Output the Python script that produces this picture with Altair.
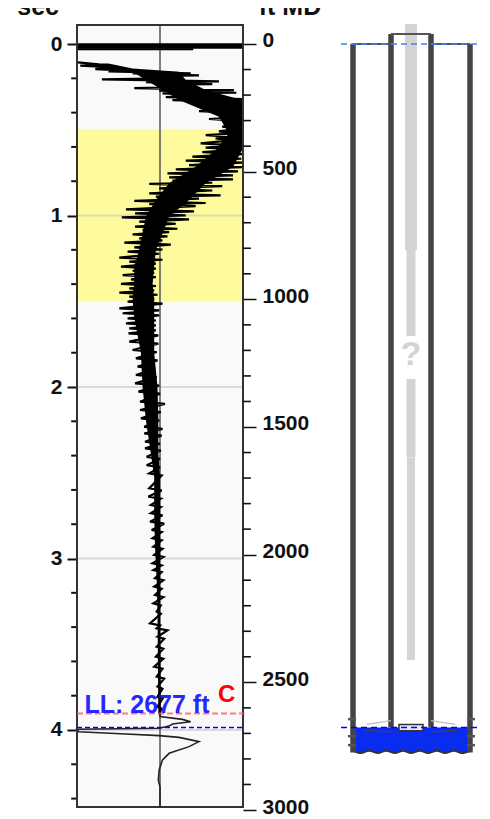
import altair as alt
import pandas as pd

FONT = "Liberation Sans"

# ---- seismic trace: spikes (time s, left amp, right amp)
spike_t = [.107,.126,.146,.159,.171,.187,.206,.222,.237,.257,.272,.288,.309,.327,.346,.365,.391,.414,.437,.459,
           .482,.509,.531,.550,.579,.604,.630,.657,.680,.706,.731,.754,.777,.797,.816,.842,.871,.890,.915,.933,
           .964,.987,1.011,1.036,1.065,1.085,1.110,1.133,1.158,1.186,1.211,1.246,1.269,1.298,1.322,1.347,1.372,
           1.399,1.425,1.450,1.473,1.502,1.541,1.570,1.600,1.629,1.658,1.687,1.735,1.784,1.833,1.881,1.930,1.979,
           2.027,2.086,2.134,2.183,2.232,2.271,2.319,2.358,2.407,2.456,2.504,2.591,2.639,2.688,2.736,2.785,2.834,
           2.882,2.931,2.979,3.028,3.067,3.115,3.164,3.213,3.261,3.310,3.378,3.407,3.456,3.514,3.572,3.631,3.689,
           3.747,3.806,3.864,3.903]
spike_l = [-.99,-.96,-.78,-.62,-.33,-.17,-.70,-.17,-.05,-.31,-.01,.03,.07,.15,.43,.55,.47,.79,.59,.83,
           .75,.71,.55,.67,.49,.55,.51,.39,.31,.35,.19,.09,.11,.15,-.13,-.01,-.13,-.05,-.31,-.13,
           -.41,-.30,-.46,-.25,-.30,-.21,-.33,-.25,-.43,-.31,-.39,-.49,-.37,-.47,-.33,-.45,-.35,
           -.47,-.37,-.49,-.37,-.39,-.49,-.45,-.39,-.41,-.37,-.38,-.37,-.33,-.29,-.27,-.29,-.30,
           -.26,-.24,-.24,-.23,-.19,-.19,-.18,-.18,-.16,-.16,-.13,-.13,-.14,-.11,-.11,-.12,-.10,
           -.09,-.08,-.07,-.09,-.08,-.06,-.07,-.06,-.08,-.04,-.12,-.04,-.03,-.04,-.05,-.07,-.04,
           -.03,-.03,-.03,-.01]
spike_r = [-.74,-.50,-.25,.37,.47,.25,.71,.63,.43,.89,.92,.55,.99,.99,.99,.99,.99,.99,.99,.99,
           .94,.92,.92,.85,.92,.98,.99,.98,.99,.99,.94,.88,.88,.63,.75,.63,.73,.47,.55,.43,
           .41,.31,.35,.19,.21,.11,.09,.03,.13,.03,-.01,.03,-.05,-.05,-.07,-.05,-.09,
           -.05,-.07,-.03,-.07,.03,-.01,-.01,-.05,-.05,-.05,-.02,-.02,-.04,-.03,-.06,-.04,-.01,
           0,.06,.01,-.01,.03,.02,0,.01,0,0,.02,.02,.01,.01,.03,.05,.02,
           .02,.03,.04,.02,.02,.04,.02,.04,.01,.01,0,.09,.05,.04,.04,.03,.05,
           .03,.03,.02,.01]

# solid body of the trace
body_t = [.113,.142,.161,.210,.268,.327,.424,.521,.618,.715,.812,.910,1.007,1.104,1.201,1.298,1.396,1.493,1.590,
          1.80,1.998,2.193,2.387,2.524,2.736,2.931,3.125,3.32,3.90]
body_l = [-.94,-.70,-.33,-.17,.03,.23,.71,.83,.67,.43,.11,-.05,-.17,-.21,-.25,-.31,-.31,-.33,-.31,
          -.23,-.21,-.17,-.11,-.07,-.07,-.06,-.04,-.03,-.02]
body_r = [-.62,-.33,.23,.31,.55,.99,.99,.99,.99,.88,.55,.35,.11,.03,-.05,-.07,-.09,-.07,-.07,
          -.07,-.03,-.02,-.02,0,0,0,0,0,.01]

# thin tail of the trace
tail_t = [3.90,3.922,3.938,3.952,3.965,3.977,3.990,3.996,4.010,4.016,4.023,4.033,4.043,4.068,4.097,4.136,4.175,4.233,4.292,4.331,4.449]
tail_a = [0,0,.27,.37,.15,.11,-.01,-1,-.98,-.73,-.41,-.01,.23,.47,.35,.11,.03,-.01,-.02,0,0]

# first-break band
band_t = [.012,.031]
band_l = [-1,-1]
band_r = [1,.4]
band_w = [5.5,2]

# axes
sec_major = [0,1,2,3,4]
sec_minor = [.2,.4,.6,.8,1.2,1.4,1.6,1.8,2.2,2.4,2.6,2.8,3.2,3.4,3.6,3.8,4.2,4.4]
ft_major = [0,500,1000,1500,2000,2500,3000]
ft_minor = [100,200,300,400,600,700,800,900,1100,1200,1300,1400,1600,1700,1800,1900,2100,2200,2300,2400,2600,2700,2800,2900]

# well diagram (x = offset from axis, y = ft)
LL = 2677
outer_x = [-58,59]
inner_x = [-20,20]
wave_x = [-58,-50,-42,-33,-25,-16,-8,0,9,17,26,34,43,51,59]
wave_y = [2768,2777,2768,2777,2768,2777,2768,2777,2768,2777,2768,2777,2768,2777,2768]
rod_top = [-78,807,1312,1618]
rod_bot = [807,1144,1618,2413]
rod_l = [-6,-4.5,-4.5,-4]
rod_r = [6,4.5,4.5,4]

SEC_TOP, SEC_BOT, SEC_END = -0.111, 4.449, 4.4665
FT_TOP, FT_BOT, FT_END = -74.4, 2988.6, 3000

SEC = alt.Scale(domain=[SEC_TOP,SEC_END], nice=False, zero=False, reverse=True)
FT = alt.Scale(domain=[FT_TOP,FT_END], nice=False, zero=False, reverse=True)
AMP = alt.Scale(domain=[-1,1], nice=False, zero=False)
WX = alt.Scale(domain=[-80,80], range=[254,414], nice=False, zero=False)

def ysec(f="t", **kw): return alt.Y(f"{f}:Q", scale=SEC, axis=kw.pop("axis", None))
def yft(f="d", **kw): return alt.Y(f"{f}:Q", scale=FT, axis=kw.pop("axis", None))
def xamp(f="a"): return alt.X(f"{f}:Q", scale=AMP, axis=None)
def xw(f="x"): return alt.X(f"{f}:Q", scale=WX, axis=None)

layers = []

# panel background
layers.append(alt.Chart(pd.DataFrame({"d":[FT_TOP],"d2":[FT_BOT],"a":[-1],"a2":[1]})).mark_rect(color="#f9f9f9")
              .encode(x=xamp(), x2="a2:Q", y=yft(), y2="d2:Q"))
# yellow zone
layers.append(alt.Chart(pd.DataFrame({"t":[.495],"t2":[1.5],"a":[-1],"a2":[1]})).mark_rect(color="#fdfb9d")
              .encode(x=xamp(), x2="a2:Q", y=ysec(), y2="t2:Q"))
# grid + left axis
left_axis = alt.Axis(values=sec_major, orient="left", grid=False, domain=False, tickSize=10, tickWidth=2, tickColor="#111",
                     labelFont=FONT, labelFontWeight="bold", labelFontSize=21, labelColor="#111", labelPadding=5, title=None,
                     labelOverlap=False, labelBound=False, labelFlush=False, format="d")
layers.append(alt.Chart(pd.DataFrame({"t":sec_major[1:],"l":[-1]*4,"r":[1]*4})).mark_rule(color="#bbbbbb", opacity=.5, strokeWidth=2)
              .encode(x=xamp("l"), x2="r:Q", y=alt.Y("t:Q", scale=SEC, axis=left_axis)))
# centre line
layers.append(alt.Chart(pd.DataFrame({"a":[0],"t":[SEC_TOP],"t2":[SEC_BOT]})).mark_rule(color="#555555", strokeWidth=1.5)
              .encode(x=xamp(), y=ysec(), y2="t2:Q"))
# trace body
layers.append(alt.Chart(pd.DataFrame({"t":body_t,"l":body_l,"r":body_r})).mark_area(color="black", orient="horizontal")
              .encode(y=ysec(), x=xamp("l"), x2="r:Q"))
# trace wiggle: left swing at each sample, right swing just after it
wiggle_t, wiggle_a = [], []
for t_, l_, r_ in zip(spike_t, spike_l, spike_r):
    wiggle_t += [t_, t_ + .012]
    wiggle_a += [l_, r_]
layers.append(alt.Chart(pd.DataFrame({"t":wiggle_t,"a":wiggle_a,"o":list(range(len(wiggle_t)))})).mark_line(color="black", strokeWidth=2.2, strokeJoin="miter", strokeMiterLimit=3)
              .encode(y=ysec(), x=xamp(), order="o:Q"))
layers.append(alt.Chart(pd.DataFrame({"t":band_t,"l":band_l,"r":band_r,"w":band_w})).mark_rule(color="black")
              .encode(y=ysec(), x=xamp("l"), x2="r:Q", strokeWidth=alt.StrokeWidth("w:Q", scale=None)))
layers.append(alt.Chart(pd.DataFrame({"t":tail_t,"a":tail_a,"o":list(range(len(tail_t)))})).mark_line(color="#222222", strokeWidth=1.6)
              .encode(y=ysec(), x=xamp(), order="o:Q"))
# frame + right axis
right_axis = alt.Axis(values=ft_major, orient="right", grid=False, domain=False, tickSize=13, tickWidth=1.5, tickColor="#111",
                      labelFont=FONT, labelFontWeight="bold", labelFontSize=21, labelColor="#111", labelPadding=6, title=None,
                      labelOverlap=False, labelBound=False, labelFlush=False, format="d", labelOffset=-3)
layers.append(alt.Chart(pd.DataFrame({"d":[FT_TOP],"d2":[FT_BOT],"a":[-1],"a2":[1]})).mark_rect(fillOpacity=0, stroke="#333333", strokeWidth=2)
              .encode(x=xamp(), x2="a2:Q", y=alt.Y("d:Q", scale=FT, axis=right_axis), y2="d2:Q"))
# minor ticks
layers.append(alt.Chart(pd.DataFrame({"t":sec_minor,"l":[-1.07]*len(sec_minor),"r":[-1.01]*len(sec_minor)})).mark_rule(color="#111", strokeWidth=2)
              .encode(y=ysec(), x=xamp("l"), x2="r:Q"))
layers.append(alt.Chart(pd.DataFrame({"d":ft_minor,"l":[1.0]*len(ft_minor),"r":[1.095]*len(ft_minor)})).mark_rule(color="#111", strokeWidth=1.6)
              .encode(y=yft(), x=xamp("l"), x2="r:Q"))
# level lines + labels
layers.append(alt.Chart(pd.DataFrame({"d":[2622],"l":[-1],"r":[1.02]})).mark_rule(color="#ff5555", opacity=.75, strokeWidth=2.2, strokeDash=[6,3])
              .encode(y=yft(), x=xamp("l"), x2="r:Q"))
layers.append(alt.Chart(pd.DataFrame({"d":[LL],"l":[-1],"r":[1.02]})).mark_rule(color="#0000ff", strokeWidth=1.6, strokeDash=[5,3])
              .encode(y=yft(), x=xamp("l"), x2="r:Q"))
layers.append(alt.Chart(pd.DataFrame({"a":[-.91],"d":[2622],"s":["LL: 2677 ft"]})).mark_text(font=FONT, fontWeight="bold", fontSize=25, color="#1010ff", align="left", baseline="alphabetic", opacity=.9)
              .encode(x=xamp(), y=yft(), text="s:N"))
layers.append(alt.Chart(pd.DataFrame({"a":[.7],"d":[2578],"s":["C"]})).mark_text(font=FONT, fontWeight="bold", fontSize=24, color="#ff0000", align="left", baseline="alphabetic")
              .encode(x=xamp(), y=yft(), text="s:N"))
# clipped axis headers
layers.append(alt.Chart(pd.DataFrame({"a":[-1.217],"d":[-113],"s":["sec"]})).mark_text(font=FONT, fontWeight="bold", fontSize=25, color="#111", align="right", baseline="alphabetic")
              .encode(x=xamp(), y=yft(), text="s:N"))
layers.append(alt.Chart(pd.DataFrame({"a":[1.19],"d":[-113],"s":["ft MD"]})).mark_text(font=FONT, fontWeight="bold", fontSize=25, color="#111", align="left", baseline="alphabetic")
              .encode(x=xamp(), y=yft(), text="s:N"))

# ---- well diagram
layers.append(alt.Chart(pd.DataFrame({"l":rod_l,"r":rod_r,"d":rod_top,"d2":rod_bot})).mark_rect(color="#d4d4d4")
              .encode(x=xw("l"), x2="r:Q", y=yft(), y2="d2:Q"))
layers.append(alt.Chart(pd.DataFrame({"x":[0],"d":[1218],"s":["?"]})).mark_text(font=FONT, fontWeight="bold", fontSize=34, color="#d4d4d4", baseline="middle")
              .encode(x=xw(), y=yft(), text="s:N"))
layers.append(alt.Chart(pd.DataFrame({"x":wave_x,"y":wave_y,"t":[LL]*len(wave_x)})).mark_area(color="#0a2cf0", interpolate="monotone")
              .encode(x=xw(), y=alt.Y("y:Q", scale=FT, axis=None), y2="t:Q"))
layers.append(alt.Chart(pd.DataFrame({"x":wave_x,"y":wave_y})).mark_line(color="#333333", strokeWidth=2, interpolate="monotone")
              .encode(x=xw(), y=alt.Y("y:Q", scale=FT, axis=None)))
# casing
layers.append(alt.Chart(pd.DataFrame({"x":outer_x,"d":[0,0],"d2":[2775,2775]})).mark_rule(color="#444444", strokeWidth=5.5)
              .encode(x=xw(), y=yft(), y2="d2:Q"))
layers.append(alt.Chart(pd.DataFrame({"x":inner_x,"d":[-39,-39],"d2":[LL,LL]})).mark_rule(color="#444444", strokeWidth=5.5)
              .encode(x=xw(), y=yft(), y2="d2:Q"))
layers.append(alt.Chart(pd.DataFrame({"l":[-58,20,-20],"r":[-20,59,20],"d":[0,0,-39]})).mark_rule(color="#555555", strokeWidth=2)
              .encode(x=xw("l"), x2="r:Q", y=yft()))
# casing bumps
bump_d = [2644,2711,2746]
layers.append(alt.Chart(pd.DataFrame({"l":[-63]*3+[56]*3,"r":[-55]*3+[64]*3,"d":bump_d*2})).mark_rule(color="#555555", strokeWidth=2.5)
              .encode(x=xw("l"), x2="r:Q", y=yft()))
# wedges inside the fluid
layers.append(alt.Chart(pd.DataFrame({"x":[-46,-20],"y":[2687,2695]})).mark_line(color="#444444", strokeWidth=1.2).encode(x=xw(), y=alt.Y("y:Q", scale=FT, axis=None)))
layers.append(alt.Chart(pd.DataFrame({"x":[20,46],"y":[2695,2687]})).mark_line(color="#444444", strokeWidth=1.2).encode(x=xw(), y=alt.Y("y:Q", scale=FT, axis=None)))
layers.append(alt.Chart(pd.DataFrame({"x":[-44,-20],"y":[2665,2650]})).mark_line(color="#bbbbbb", strokeWidth=1.2).encode(x=xw(), y=alt.Y("y:Q", scale=FT, axis=None)))
layers.append(alt.Chart(pd.DataFrame({"x":[20,44],"y":[2650,2665]})).mark_line(color="#bbbbbb", strokeWidth=1.2).encode(x=xw(), y=alt.Y("y:Q", scale=FT, axis=None)))
# tool at the fluid level
layers.append(alt.Chart(pd.DataFrame({"l":[-12],"r":[12],"d":[2665],"d2":[2690]})).mark_rect(fill="#e8e8ff", stroke="#333333", strokeWidth=1.5)
              .encode(x=xw("l"), x2="r:Q", y=yft(), y2="d2:Q"))
# surface and fluid level
layers.append(alt.Chart(pd.DataFrame({"l":[-70],"r":[70],"d":[0]})).mark_rule(color="#3f7fff", strokeWidth=1.6, strokeDash=[6,4])
              .encode(x=xw("l"), x2="r:Q", y=yft()))
layers.append(alt.Chart(pd.DataFrame({"l":[-70],"r":[70],"d":[LL]})).mark_rule(color="#0000ff", strokeWidth=1.6, strokeDash=[6,4])
              .encode(x=xw("l"), x2="r:Q", y=yft()))

chart = alt.layer(*layers).resolve_scale(x="independent", y="independent").properties(
    width=166, height=785,
    padding={"left":69,"top":17,"right":239,"bottom":6},
    autosize=alt.AutoSizeParams(type="none"),
    background="white",
).configure_view(stroke=None)

chart.save("out.html", embed_options={"renderer": "svg", "actions": False})
